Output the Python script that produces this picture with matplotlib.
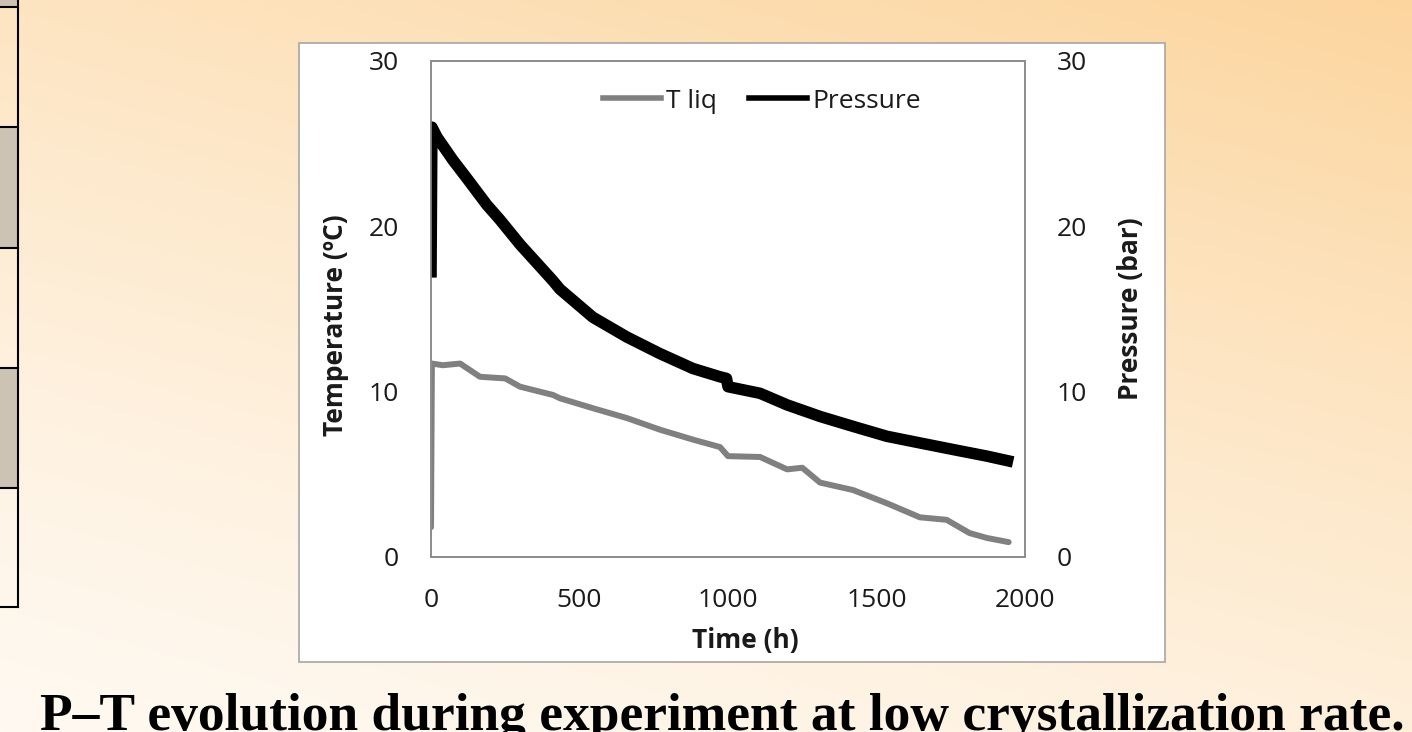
import numpy as np
import matplotlib.pyplot as plt
from matplotlib.patches import Rectangle
from matplotlib.lines import Line2D

# Data
time_t = [0, 3, 40, 98, 165, 250, 300, 411, 434, 545, 660, 771, 882, 973, 1000,
          1108, 1199, 1250, 1310, 1421, 1535, 1646, 1736, 1813, 1872, 1945]
temp_liq = [1.8, 11.7, 11.6, 11.7, 10.9, 10.8, 10.3, 9.8, 9.6, 9.0, 8.4, 7.7, 7.1, 6.65, 6.1,
            6.05, 5.3, 5.4, 4.5, 4.05, 3.25, 2.4, 2.25, 1.45, 1.15, 0.9]

time_p = [0, 3, 20, 74, 121, 188, 232, 300, 411, 434, 545, 660, 771, 882, 973, 995,
          1000, 1108, 1199, 1310, 1421, 1535, 1646, 1758, 1872, 1960]
pressure = [16.9, 26.0, 25.4, 24.0, 22.9, 21.3, 20.4, 18.9, 16.7, 16.2, 14.5, 13.3, 12.3,
            11.4, 10.9, 10.8, 10.3, 9.9, 9.2, 8.5, 7.9, 7.3, 6.9, 6.5, 6.1, 5.75]

x_ticks = [0, 500, 1000, 1500, 2000]
y_ticks = [0, 10, 20, 30]
series_names = ["T liq", "Pressure"]
title = "P\u2013T evolution during experiment at low crystallization rate."

plt.rcParams['font.family'] = ['Open Sans', 'DejaVu Sans']
txt = '#1a1a1a'

W, H = 1412, 732
fig = plt.figure(figsize=(W / 100, H / 100), dpi=100)

# orange slide background, light at bottom-left
bg = fig.add_axes([0, 0, 1, 1], zorder=-10)
yy, xx = np.mgrid[0:1:200j, 0:1:400j]
s = np.clip(0.35 * xx + 0.65 * (1 - yy), 0, 1) ** 1.3
light = np.array([255, 249, 241]) / 255
dark = np.array([252, 213, 158]) / 255
img = light + s[..., None] * (dark - light)
bg.imshow(img, extent=[0, 1, 0, 1], origin='upper', aspect='auto')
bg.axis('off')

# table edge on the left
rows = [7, 127, 248, 368, 488, 607]
for y0, y1 in [(0, 7), (127, 248), (368, 488)]:
    bg.add_patch(Rectangle((0, 1 - y1 / H), 18 / W, (y1 - y0) / H,
                           transform=fig.transFigure, facecolor='#cdc3b4', edgecolor='none'))
for r in rows:
    bg.add_line(Line2D([0, 18 / W], [1 - r / H, 1 - r / H], transform=fig.transFigure,
                       color='black', lw=1.5))
bg.add_line(Line2D([18 / W, 18 / W], [1, 1 - 607 / H], transform=fig.transFigure,
                   color='black', lw=1.5))

# white chart box
bg.add_patch(Rectangle((299 / W, 1 - 662 / H), 866 / W, 619 / H, transform=fig.transFigure,
                       facecolor='white', edgecolor='#a6a6a6', lw=1.2))

ax = fig.add_axes([431 / W, 1 - 557 / H, 594 / W, 496 / H])
ax2 = ax.twinx()

ax.plot(time_t, temp_liq, color='#808080', lw=4.3, solid_joinstyle='round', solid_capstyle='round')
ax2.plot(time_p, pressure, color='black', lw=8.3, solid_joinstyle='round', solid_capstyle='butt')

for a in (ax, ax2):
    a.set_xlim(0, 2000)
    a.set_ylim(0, 30)
    a.set_yticks(y_ticks)
    for sp in a.spines.values():
        sp.set_color('#8c8c8c')
        sp.set_linewidth(1.2)
ax.set_xticks(x_ticks)
ax.tick_params(axis='both', length=0, labelsize=19, labelcolor=txt)
ax.tick_params(axis='y', pad=23)
ax.tick_params(axis='x', pad=22)
ax2.tick_params(axis='y', length=0, labelsize=19, labelcolor=txt, pad=23)

ax.set_xlabel("Time (h)", fontsize=19, fontweight='bold', color=txt)
ax.xaxis.set_label_coords(0.529, -0.141)
ax.set_ylabel("Temperature (\u00baC)", fontsize=19, fontweight='bold', color=txt, va='center')
ax.yaxis.set_label_coords(-0.16, 0.468)
ax2.set_ylabel("Pressure (bar)", fontsize=19, fontweight='bold', color=txt, va='center')
ax2.yaxis.set_label_coords(1.177, 0.5)

handles = [Line2D([], [], color='#808080', lw=4),
           Line2D([], [], color='black', lw=4)]
ax2.legend(handles, series_names, loc='center', bbox_to_anchor=((762 - 431) / 594, (557 - 101) / 496),
           ncol=2, frameon=False, fontsize=19, handlelength=2.2, handletextpad=0.2,
           columnspacing=1.2, labelcolor=txt)

fig.text(40 / W, 2 / H, title, family='Liberation Serif', fontweight='bold', fontsize=38.5,
         ha='left', va='baseline', color='black')

fig.savefig('out.png', dpi=100)
